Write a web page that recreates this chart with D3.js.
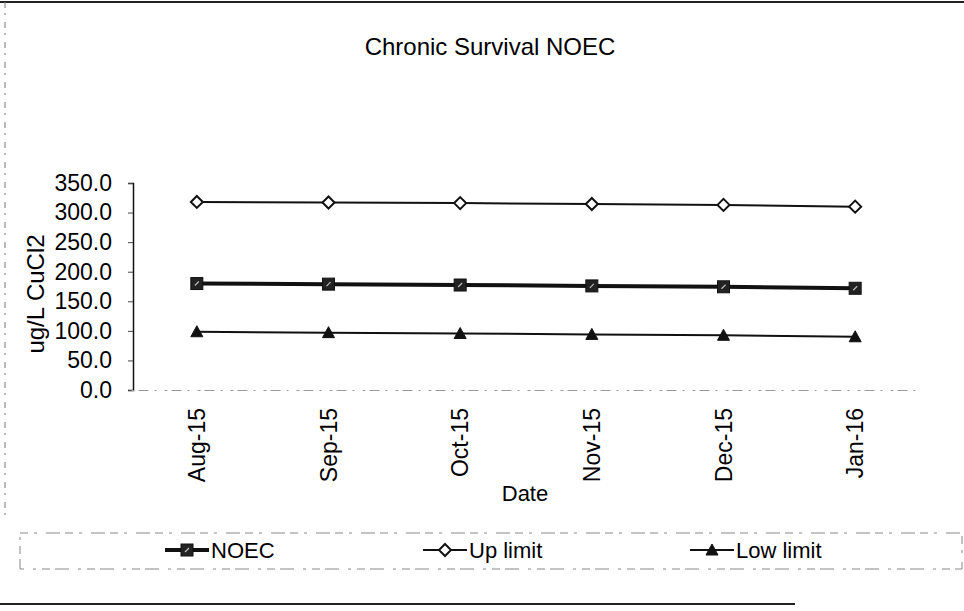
<!DOCTYPE html>
<html>
<head>
<meta charset="utf-8">
<script src="https://cdn.jsdelivr.net/npm/d3@7"></script>
<style>
  html, body { margin: 0; padding: 0; background: #fff; }
  svg { display: block; font-family: "Liberation Sans", Arial, sans-serif; }
</style>
</head>
<body>
<svg id="chart" width="964" height="611"></svg>
<script>
// Monthly chronic survival NOEC results with control-chart limits
const months = ["Aug-15", "Sep-15", "Oct-15", "Nov-15", "Dec-15", "Jan-16"];
const noec = [180, 179, 177.5, 176, 174.5, 172];
const upLimit = [318, 317, 316, 314.5, 313, 310];
const lowLimit = [98.5, 97, 95.5, 94, 92.5, 90];
const yTicks = [0, 50, 100, 150, 200, 250, 300, 350];

const svg = d3.select("#chart");
const W = 964, H = 611;

// page frame lines
svg.append("line").attr("x1", 0).attr("x2", W).attr("y1", 2).attr("y2", 2)
  .attr("stroke", "#222").attr("stroke-width", 2);
svg.append("line").attr("x1", 5).attr("x2", 5).attr("y1", 2).attr("y2", 520)
  .attr("stroke", "#777").attr("stroke-width", 1).attr("stroke-dasharray", "6 5 2 7");
svg.append("line").attr("x1", 0).attr("x2", 795).attr("y1", 604).attr("y2", 604)
  .attr("stroke", "#222").attr("stroke-width", 2);

const plot = { left: 131, right: 921, top: 183, bottom: 390 };

const x = d3.scaleBand().domain(months).range([plot.left, plot.right]);
const y = d3.scaleLinear().domain([0, 350]).range([plot.bottom, plot.top]);
const cx = m => x(m) + x.bandwidth() / 2;

// title
svg.append("text").attr("x", 490).attr("y", 55).attr("text-anchor", "middle")
  .attr("font-size", 24).attr("fill", "#000").text("Chronic Survival NOEC");

// y axis
const yAxis = d3.axisLeft(y).tickValues(yTicks).tickFormat(d3.format(".1f"))
  .tickSize(5).tickPadding(16);
const gy = svg.append("g").attr("transform", `translate(133,0)`).call(yAxis);
gy.select(".domain").attr("stroke", "#111").attr("stroke-width", 1.5);
gy.selectAll(".tick line").attr("stroke", "#444");
gy.selectAll(".tick text").attr("font-size", 23).attr("fill", "#000")
  .attr("font-family", "Liberation Sans, Arial, sans-serif");

// x axis (faint baseline, rotated month labels)
const xAxis = d3.axisBottom(x).tickSize(0).tickPadding(0);
const gx = svg.append("g").attr("transform", `translate(0,${plot.bottom})`).call(xAxis);
gx.select(".domain").attr("stroke", "#999").attr("stroke-width", 1)
  .attr("stroke-dasharray", "3 4 10 6 2 8");
gx.selectAll(".tick text")
  .attr("font-size", 23).attr("fill", "#000")
  .attr("font-family", "Liberation Sans, Arial, sans-serif")
  .attr("text-anchor", "end")
  .attr("transform", "translate(0,18) rotate(-90)")
  .attr("x", 0).attr("y", 0).attr("dy", "0.35em");

// axis titles
svg.append("text").attr("transform", "translate(44,294) rotate(-90)")
  .attr("text-anchor", "middle").attr("font-size", 24).attr("fill", "#000")
  .text("ug/L CuCl2");
svg.append("text").attr("x", 525).attr("y", 501).attr("text-anchor", "middle")
  .attr("font-size", 22).attr("fill", "#000").text("Date");

// series definitions
const series = [
  { name: "NOEC", values: noec, width: 4, marker: "square" },
  { name: "Up limit", values: upLimit, width: 2, marker: "diamond" },
  { name: "Low limit", values: lowLimit, width: 2, marker: "triangle" }
];

function drawMarker(g, type, px, py) {
  if (type === "square") {
    g.append("rect").attr("x", px - 6).attr("y", py - 6).attr("width", 12).attr("height", 12)
      .attr("fill", "#222").attr("stroke", "#111").attr("stroke-width", 1);
    g.append("path").attr("d", `M${px - 2},${py + 2}L${px + 2},${py - 2}`)
      .attr("stroke", "#bbb").attr("stroke-width", 1.2);
  } else if (type === "diamond") {
    g.append("path").attr("d", `M${px},${py - 6}L${px + 6},${py}L${px},${py + 6}L${px - 6},${py}Z`)
      .attr("fill", "#fff").attr("stroke", "#111").attr("stroke-width", 2);
  } else {
    g.append("path").attr("d", `M${px},${py - 6}L${px + 6},${py + 5}L${px - 6},${py + 5}Z`)
      .attr("fill", "#111").attr("stroke", "#111").attr("stroke-width", 1);
  }
}

const line = d3.line().x(d => cx(d.m)).y(d => y(d.v));
series.forEach(s => {
  const pts = months.map((m, i) => ({ m, v: s.values[i] }));
  svg.append("path").datum(pts).attr("d", line)
    .attr("fill", "none").attr("stroke", "#111").attr("stroke-width", s.width);
  const g = svg.append("g");
  pts.forEach(p => drawMarker(g, s.marker, cx(p.m), y(p.v)));
});

// legend
const legend = svg.append("g");
legend.append("rect").attr("x", 20).attr("y", 533).attr("width", 942).attr("height", 36)
  .attr("fill", "none").attr("stroke", "#888").attr("stroke-width", 1)
  .attr("stroke-dasharray", "8 6 3 9 14 5");
const legendX = [165, 423, 690];
series.forEach((s, i) => {
  const x0 = legendX[i], ly = 550;
  legend.append("line").attr("x1", x0).attr("x2", x0 + 44).attr("y1", ly).attr("y2", ly)
    .attr("stroke", "#111").attr("stroke-width", s.width);
  drawMarker(legend, s.marker, x0 + 22, ly);
  legend.append("text").attr("x", x0 + 46).attr("y", ly).attr("dy", "0.36em")
    .attr("font-size", 22).attr("fill", "#000").text(s.name);
});
</script>
</body>
</html>
